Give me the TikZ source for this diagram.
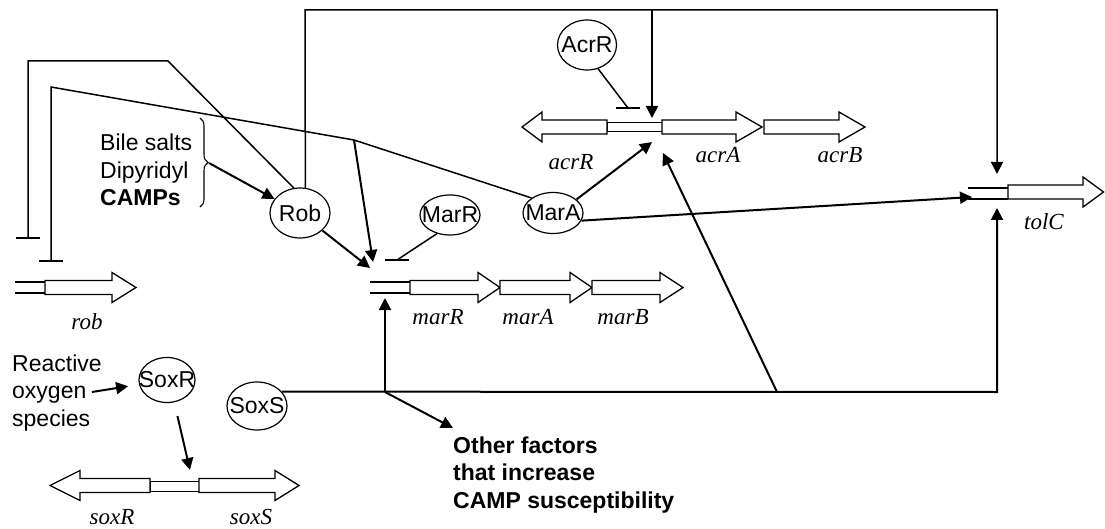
\documentclass[tikz,border=0pt]{standalone}
\usepackage{fontspec}
\setmainfont{Liberation Serif}
\newfontfamily\arial{Liberation Sans}
\usetikzlibrary{arrows.meta,shapes.geometric,decorations.pathreplacing}
\newcommand\geneshape[4]{%
  \draw[gene] (#1,#4-7) -- (#2,#4-7) -- (#2,#4-15) -- (#3,#4) -- (#2,#4+15) -- (#2,#4+7) -- (#1,#4+7) -- cycle;}
\begin{document}
\begin{tikzpicture}[x=1pt,y=-1pt,
  every node/.style={inner sep=0pt},
  prot/.style={draw,ellipse,line width=1.2pt,font=\arial\fontsize{23}{26}\selectfont},
  act/.style={line width=2pt,-{Triangle[length=12pt,width=12pt]}},
  thinl/.style={line width=1.5pt},
  repr/.style={line width=1.5pt,-{Bar[width=24pt]}},
  gene/.style={draw,line width=1.3pt,fill=white},
  glabel/.style={font=\fontsize{23}{26}\selectfont\itshape},
  txt/.style={font=\arial\fontsize{23}{27.5}\selectfont,align=left},
  btxt/.style={font=\arial\bfseries\fontsize{23}{27.5}\selectfont,align=left},
]
\useasboundingbox (0,0) rectangle (1105,529);

% ---- coordinates
\coordinate (top) at (305,10);
\coordinate (tolCa) at (997,174);
\coordinate (acrTop) at (652,10);
\coordinate (acrPa) at (652,118);
\coordinate (acrPb) at (652,142);
\coordinate (acrPc) at (663,153);
\coordinate (tolCb) at (972,197);
\coordinate (tolCc) at (997,208);
\coordinate (marPa) at (373,262);
\coordinate (marPb) at (370,268);
\coordinate (marPc) at (385,298);
\coordinate (kink) at (354,140);
\coordinate (mA) at (51,87);
\coordinate (mB) at (51,262);
\coordinate (rA) at (168,61);
\coordinate (rB) at (28,61);
\coordinate (rC) at (28,239);
\coordinate (j1) at (385,392);
\coordinate (j2) at (777,392);
\coordinate (j3) at (997,392);
\coordinate (oth) at (453,428);
\coordinate (acrBar) at (628,108);
\coordinate (marRBar) at (397,260);
\coordinate (soxP) at (190,470);
\coordinate (rosA) at (92,392);
\coordinate (brace1) at (200,118);
\coordinate (brace2) at (200,207);
\coordinate (bt) at (209,163);

% ---- genes
% rob
\draw[thinl] (15,282) -- (45,282) (15,293) -- (45,293);
\geneshape{45}{112}{136}{287.5}
% mar
\draw[thinl] (370,282) -- (410,282) (370,293) -- (410,293);
\geneshape{410}{478}{500}{287.5}
\geneshape{500}{570}{592}{287.5}
\geneshape{592}{660}{683}{287.5}
% acr
\draw[gene,line width=1pt] (607,122.5) rectangle (662,131.5);
\geneshape{607}{542}{522}{127}
\geneshape{662}{736}{762}{127}
\geneshape{764}{839}{865}{127}
% tolC
\draw[thinl] (968,188) -- (1008,188) (968,199) -- (1008,199);
\geneshape{1008}{1083}{1103.5}{192}
% sox
\draw[gene,line width=1pt] (150,481) rectangle (199,491);
\geneshape{150}{80}{50}{485.5}
\geneshape{199}{275}{299}{485.5}

% ---- gene labels
\node[glabel] (lrob) at (87,322) {rob};
\node[glabel] (lmarR) at (438,317) {marR};
\node[glabel] (lmarA) at (528,317) {marA};
\node[glabel] (lmarB) at (623,317) {marB};
\node[glabel] (lacrR) at (571,162) {acrR};
\node[glabel] (lacrA) at (718,155) {acrA};
\node[glabel] (lacrB) at (840,155) {acrB};
\node[glabel] (ltolC) at (1044,222) {tolC};
\node[glabel] (lsoxR) at (112,517) {soxR};
\node[glabel] (lsoxS) at (251,517) {soxS};

% ---- proteins
\node[prot,minimum width=60pt,minimum height=50pt] (Rob) at (300,213) {\makebox[0pt]{Rob}};
\node[prot,minimum width=60pt,minimum height=40pt] (MarR) at (450,215) {\makebox[0pt]{MarR}};
\node[prot,minimum width=60pt,minimum height=41pt] (MarA) at (553,213) {\makebox[0pt]{MarA}};
\node[prot,minimum width=59pt,minimum height=50pt] (AcrR) at (587,45) {\makebox[0pt]{AcrR}};
\node[prot,minimum width=56pt,minimum height=45pt] (SoxR) at (167,380) {\makebox[0pt]{SoxR}};
\node[prot,minimum width=60pt,minimum height=48pt] (SoxS) at (257,406) {\makebox[0pt]{SoxS}};

% ---- texts
\node[txt,anchor=west] (bile) at (100,170) {Bile salts\\Dipyridyl\\\textbf{CAMPs}};
\node[txt,anchor=west] (ros) at (12,393) {Reactive\\oxygen\\species};
\node[btxt,anchor=west] (other) at (453,475) {Other factors\\that increase\\CAMP susceptibility};

% ---- brace
\draw[line width=1.1pt,decorate,decoration={brace,amplitude=8pt}] (brace1) -- (brace2);

% ---- connectors
\draw[act,line width=1.5pt] (Rob.78) -- (top) -| (tolCa);
\draw[act,line width=1.5pt] (acrTop) -- (acrPa);
\draw[repr] (Rob.104) -- (rA) -- (rB) -- (rC);
\draw[repr] (MarA.145) -- (kink) -- (mA) -- (mB);
\draw[act] (kink) -- (marPa);
\draw[act] (Rob.-38) -- (marPb);
\draw[act] (bt) -- (Rob);
\draw[thinl] (MarR.235) -- (marRBar);
\draw[thinl] ([xshift=-12pt]marRBar) -- ([xshift=12pt]marRBar);
\draw[thinl] (AcrR.-65) -- (acrBar);
\draw[thinl] ([xshift=-12pt]acrBar) -- ([xshift=12pt]acrBar);
\draw[act] (MarA.30) -- (acrPb);
\draw[act] (MarA.-15) -- (tolCb);
\draw[act] (SoxS.30) -- (j3) -- (tolCc);
\draw[act] (j1) -- (marPc);
\draw[act] (j1) -- (oth);
\draw[act] (j2) -- (acrPc);
\draw[act,shorten <=14pt] (SoxR.-72) -- (soxP);
\draw[act,shorten >=11pt] (rosA) -- (SoxR);
\end{tikzpicture}
\end{document}
